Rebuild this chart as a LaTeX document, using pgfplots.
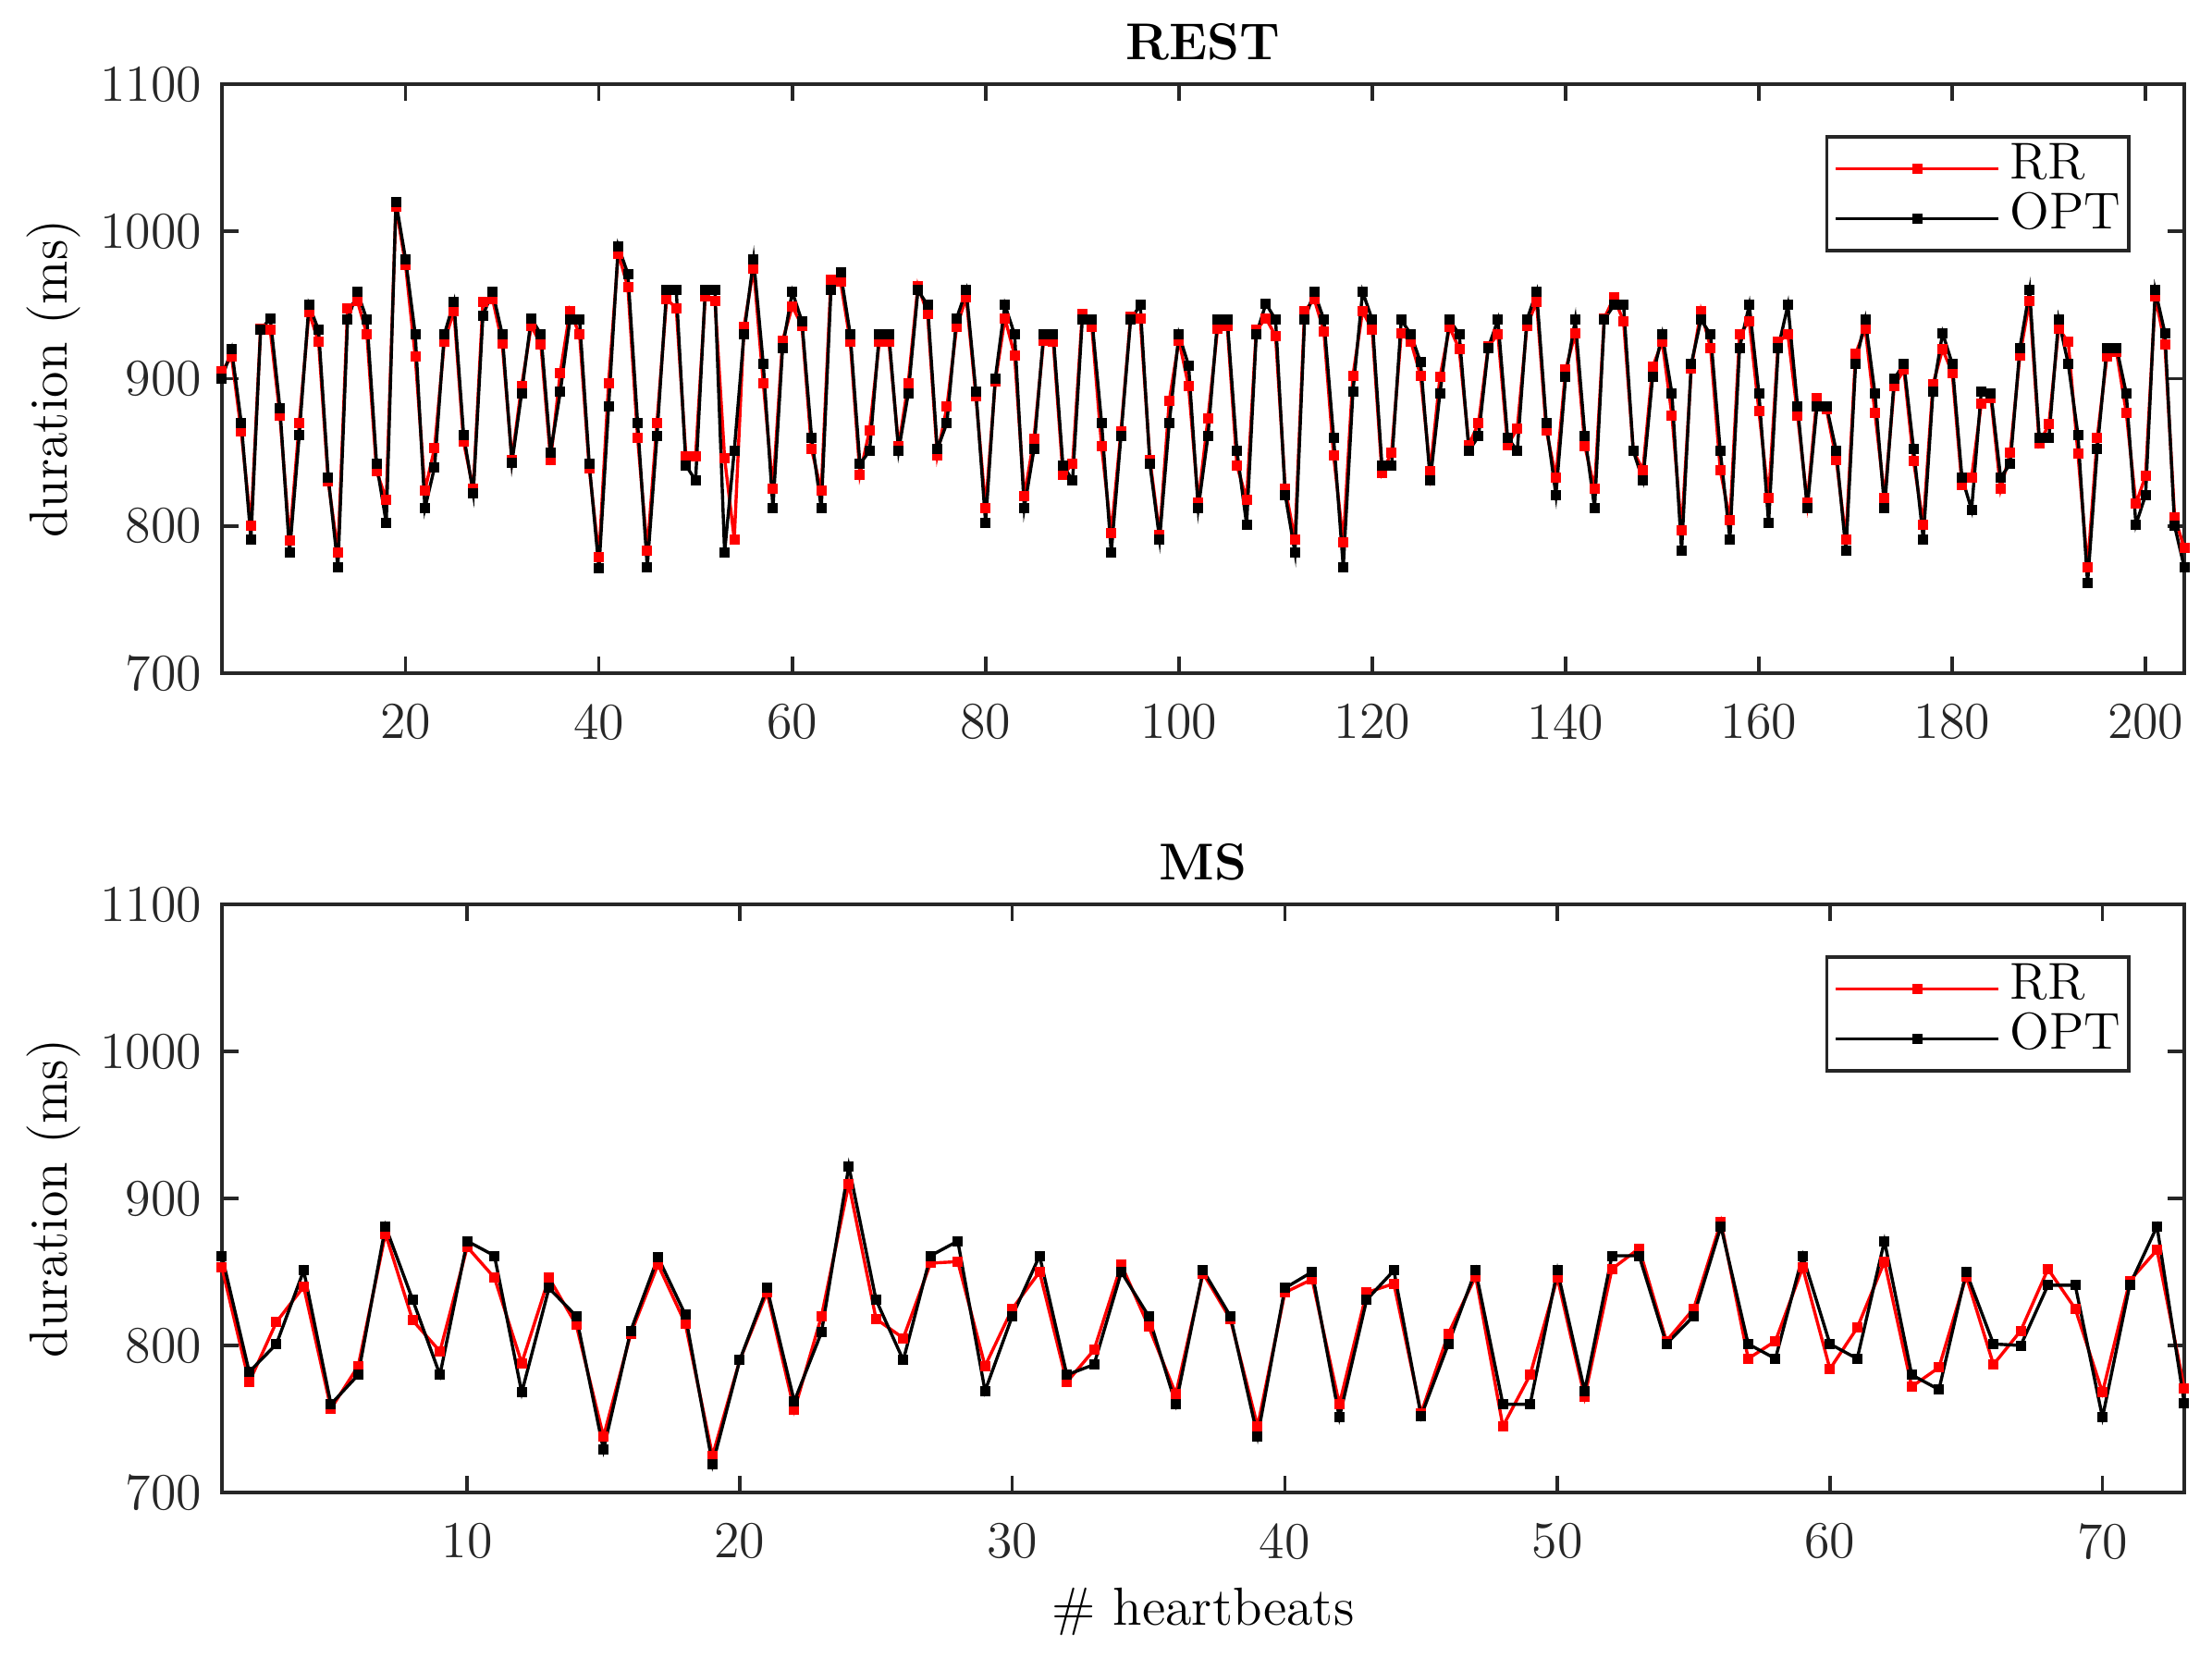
\documentclass[border=0pt]{standalone}
\usepackage{pgfplots}
\usepackage{pgfplotstable}
\pgfplotsset{compat=1.18}
\definecolor{axgray}{HTML}{262626}

\pgfplotstableread{
x rr opt
1 905 900
2 915 920
3 864 870
4 800 791
5 934 933
6 933 941
7 875 880
8 790 782
9 870 862
10 945 950
11 925 933
12 830 833
13 782 772
14 948 940
15 953 959
16 930 940
17 837 842
18 818 802
19 1017 1020
20 977 981
21 915 930
22 824 812
23 853 840
24 925 930
25 946 952
26 857 862
27 825 822
28 952 943
29 954 959
30 924 930
31 845 843
32 895 890
33 936 941
34 923 930
35 845 850
36 904 891
37 946 940
38 930 940
39 839 842
40 779 771
41 897 881
42 985 990
43 962 971
44 860 870
45 783 772
46 870 861
47 954 960
48 948 960
49 847 841
50 847 831
51 956 960
52 953 960
53 846 782
54 791 851
55 935 930
56 975 981
57 897 910
58 825 812
59 926 921
60 949 959
61 936 939
62 852 860
63 824 812
64 967 960
65 966 972
66 925 930
67 835 842
68 865 851
69 925 930
70 925 930
71 854 851
72 897 890
73 963 960
74 944 950
75 848 852
76 881 870
77 935 941
78 955 960
79 888 891
80 812 802
81 898 900
82 941 950
83 916 930
84 820 812
85 859 852
86 926 930
87 925 930
88 835 841
89 842 831
90 944 940
91 935 940
92 854 870
93 795 782
94 864 861
95 942 940
96 941 950
97 845 842
98 794 791
99 885 870
100 926 930
101 895 909
102 816 812
103 873 861
104 934 940
105 936 940
106 841 851
107 818 801
108 933 930
109 941 951
110 929 940
111 825 821
112 791 782
113 946 940
114 954 959
115 932 940
116 848 860
117 789 772
118 902 891
119 946 959
120 933 940
121 836 841
122 850 841
123 931 940
124 925 930
125 902 911
126 837 831
127 901 890
128 935 940
129 920 930
130 855 851
131 870 861
132 922 921
133 930 940
134 855 860
135 866 851
136 936 940
137 952 959
138 865 870
139 833 821
140 906 901
141 931 940
142 854 861
143 825 812
144 941 940
145 955 950
146 939 950
147 851 851
148 838 831
149 908 901
150 925 930
151 875 890
152 797 783
153 907 910
154 946 940
155 921 930
156 838 851
157 804 791
158 930 921
159 939 950
160 878 890
161 819 802
162 925 921
163 930 950
164 875 881
165 816 812
166 887 881
167 879 881
168 845 851
169 791 783
170 917 910
171 934 940
172 877 890
173 819 812
174 895 900
175 906 910
176 844 852
177 801 791
178 896 891
179 920 931
180 904 910
181 828 833
182 833 811
183 883 891
184 887 890
185 825 833
186 850 842
187 916 921
188 953 960
189 856 860
190 869 860
191 934 940
192 925 910
193 849 862
194 772 761
195 860 852
196 915 921
197 918 921
198 877 890
199 815 801
200 834 821
201 956 960
202 923 931
203 806 800
204 785 772
}\resttable

\pgfplotstableread{
x rr opt
1 853 861
2 775 782
3 816 801
4 840 851
5 757 760
6 786 780
7 876 881
8 817 831
9 796 780
10 867 871
11 846 861
12 788 768
13 846 839
14 814 820
15 738 729
16 808 810
17 855 860
18 815 821
19 725 719
20 790 790
21 836 839
22 756 762
23 820 809
24 910 922
25 818 831
26 805 790
27 856 861
28 857 871
29 786 769
30 825 820
31 850 861
32 775 780
33 797 787
34 855 850
35 813 820
36 767 760
37 849 851
38 818 820
39 745 738
40 836 839
41 845 850
42 760 751
43 836 831
44 842 851
45 754 752
46 808 801
47 847 851
48 745 760
49 780 760
50 846 851
51 765 769
52 852 861
53 866 861
54 803 801
55 825 820
56 884 881
57 791 801
58 803 791
59 853 861
60 784 801
61 812 791
62 857 871
63 772 780
64 785 770
65 847 850
66 787 801
67 810 800
68 852 841
69 825 841
70 768 751
71 844 841
72 865 881
73 771 761
}\mstable

\pgfplotsset{
  hbstyle/.style={
    scale only axis,
    width=530.5pt,
    ymin=700, ymax=1100,
    ytick={700,800,900,1000,1100},
    enlargelimits=false,
    clip=false,
    axis line style={axgray, line width=0.9pt},
    every tick/.style={axgray, line width=0.9pt},
    tick align=inside,
    major tick length=4.5pt,
    /pgf/number format/assume math mode=true,
    /pgf/number format/1000 sep={},
    tick label style={font=\fontsize{14}{16}\selectfont, text=axgray},
    xticklabel style={anchor=north, inner sep=0pt, yshift=-8.2pt},
    yticklabel style={anchor=east, inner sep=0pt, xshift=-5.25pt},
    title style={font=\fontsize{14}{16}\selectfont\bfseries, at={(axis description cs:0.5,1)}, anchor=south, inner sep=0pt, yshift=0.3pt},
    ylabel={duration (ms)},
    ylabel style={font=\fontsize{14.5}{16}\selectfont, at={(axis description cs:-0.0858,0.5)}, anchor=center, rotate=0},
    legend cell align=left,
    legend style={at={(axis description cs:1,1)}, anchor=north east,
      xshift=-14.5pt, yshift=-13.75pt, draw=axgray, line width=0.9pt,
      inner sep=2pt, column sep=2.5pt,
      font=\fontsize{14}{16}\selectfont,
      nodes={inner sep=0.2pt, text height=9.3pt, text depth=3.7pt}},
    legend image code/.code={
      \draw[mark repeat=2, mark phase=2, #1] plot coordinates {(0pt,0pt) (22pt,0pt) (44pt,0pt)};
    },
  },
  rrstyle/.style={red, line width=0.85pt, mark=square*, mark size=0.95pt, mark options={solid, fill=red, draw=red}},
  optstyle/.style={black, line width=0.85pt, mark=square*, mark size=0.95pt, mark options={solid, fill=black, draw=black}},
}

\begin{document}
\begin{tikzpicture}
\useasboundingbox (0pt,0pt) rectangle (598pt,448pt);

\begin{axis}[hbstyle,
  at={(60pt,266pt)}, anchor=south west,
  height=159.25pt,
  xmin=1, xmax=204,
  xtick={20,40,...,200},
  title={REST}]
\addplot[rrstyle] table[x=x, y=rr] {\resttable};
\addlegendentry{RR}
\addplot[optstyle] table[x=x, y=opt] {\resttable};
\addlegendentry{OPT}
\end{axis}

\begin{axis}[hbstyle,
  at={(60pt,44.5pt)}, anchor=south west,
  height=159pt,
  xmin=1, xmax=73,
  xtick={10,20,...,70},
  title={MS},
  xlabel={\# heartbeats},
  xlabel style={font=\fontsize{14.5}{16}\selectfont, at={(axis description cs:0.5,-0.226)}, anchor=base, inner sep=0pt}]
\addplot[rrstyle] table[x=x, y=rr] {\mstable};
\addlegendentry{RR}
\addplot[optstyle] table[x=x, y=opt] {\mstable};
\addlegendentry{OPT}
\end{axis}
\end{tikzpicture}
\end{document}
